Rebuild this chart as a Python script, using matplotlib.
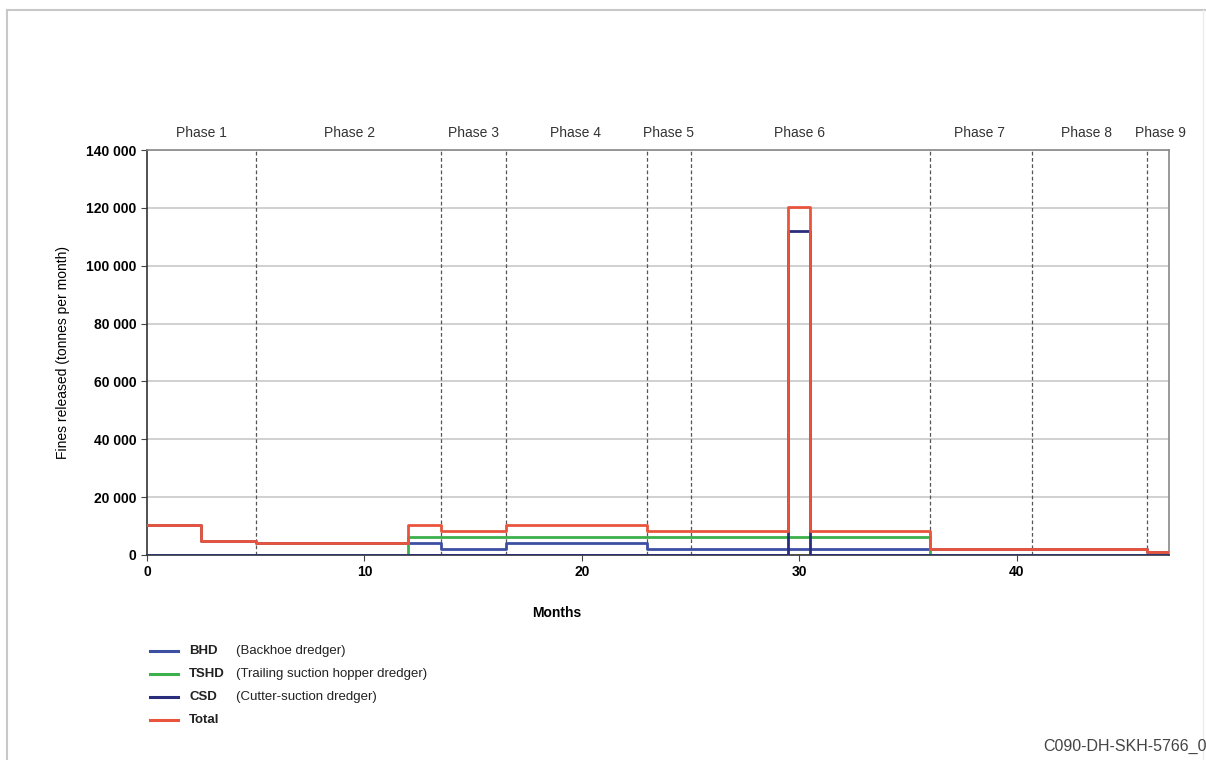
import matplotlib
matplotlib.use("Agg")
import matplotlib.pyplot as plt
from matplotlib.lines import Line2D
from matplotlib.ticker import FuncFormatter

plt.rcParams['font.family'] = ['Liberation Sans', 'DejaVu Sans']

# ---- data ----
edges = [0, 2.5, 5, 12, 13.5, 16.5, 23, 29.5, 30.5, 36, 46, 47]
bhd   = [10500, 5000, 4200, 4200, 2100, 4200, 2100, 2100, 2100, 2000, 1000]
tshd  = [0, 0, 0, 6300, 6300, 6300, 6300, 6300, 6300, 0, 0]
csd   = [0, 0, 0, 0, 0, 0, 0, 112000, 0, 0, 0]
total = [10500, 5000, 4200, 10500, 8400, 10500, 8400, 120400, 8400, 2000, 1000]

phase_bounds = [5, 13.5, 16.5, 23, 25, 36, 40.7, 46]
phase_labels = ["Phase 1", "Phase 2", "Phase 3", "Phase 4", "Phase 5",
                "Phase 6", "Phase 7", "Phase 8", "Phase 9"]
phase_label_x = [2.5, 9.3, 15.0, 19.7, 24.0, 30.0, 38.3, 43.2, 46.6]

series_labels = ["BHD", "TSHD", "CSD", "Total"]
series_desc = ["(Backhoe dredger)", "(Trailing suction hopper dredger)",
               "(Cutter-suction dredger)", ""]
colors = ["#3d4fa3", "#3cb04a", "#2a2c7c", "#e8553c"]

W, H = 1206, 760
fig = plt.figure(figsize=(W / 100, H / 100), dpi=100)

def fline(x0, y0, x1, y1, color, lw):
    fig.add_artist(Line2D([x0 / W, x1 / W], [1 - y0 / H, 1 - y1 / H],
                          color=color, linewidth=lw, transform=fig.transFigure))

# page frame (top, left, faint right)
fline(7, 10, 1210, 10, "#c8c8c8", 1.5)
fline(7, 10, 7, 770, "#c8c8c8", 1.5)
fline(1203, 10, 1203, 770, "#ececec", 1.0)

ax = fig.add_axes([147 / W, 1 - 555 / H, (1169 - 147) / W, (555 - 150) / H])

def stepxy(vals):
    return edges, list(vals) + [vals[-1]]

for vals, c in zip([bhd, tshd, csd, total], colors):
    x, y = stepxy(vals)
    ax.step(x, y, where="post", color=c, linewidth=2.0, zorder=3)

for b in phase_bounds:
    ax.axvline(b, color="#555555", linestyle=(0, (3, 2)), linewidth=0.9, zorder=2)

for lab, px in zip(phase_labels, phase_label_x):
    ax.text(px, 143500, lab, ha="center", va="bottom", fontsize=10, color="#333333")

ax.set_xlim(0, 47)
ax.set_ylim(0, 140000)
ax.set_yticks(range(0, 140001, 20000))
ax.set_xticks([0, 10, 20, 30, 40])
ax.yaxis.set_major_formatter(FuncFormatter(lambda v, p: f"{int(v):,}".replace(",", " ")))
ax.grid(axis="y", color="#c8c8c8", linewidth=1.2, zorder=1)
ax.tick_params(labelsize=10, length=4, color="#444444")
for lab in ax.get_xticklabels() + ax.get_yticklabels():
    lab.set_fontweight("bold")
for s in ["left", "bottom"]:
    ax.spines[s].set_color("#333333")
    ax.spines[s].set_linewidth(1.2)
for s in ["top", "right"]:
    ax.spines[s].set_color("#888888")
    ax.spines[s].set_linewidth(1.2)

ax.set_ylabel("Fines released (tonnes per month)", fontsize=10, labelpad=12)
fig.text(557 / W, 1 - 613 / H, "Months", ha="center", va="center",
         fontsize=10, fontweight="bold")

# legend
ys = [651, 674, 697, 720]
for lab, desc, c, yy in zip(series_labels, series_desc, colors, ys):
    fline(150, yy, 178, yy, c, 2.2)
    fig.text(189 / W, 1 - yy / H, lab, ha="left", va="center", fontsize=9.5,
             fontweight="bold", color="#222222")
    if desc:
        fig.text(236 / W, 1 - yy / H, desc, ha="left", va="center",
                 fontsize=9.5, color="#222222")

fig.text(1043 / W, 1 - 746 / H, "C090-DH-SKH-5766_0", ha="left", va="center",
         fontsize=11.5, color="#444444")

fig.savefig("out.png", dpi=100)
